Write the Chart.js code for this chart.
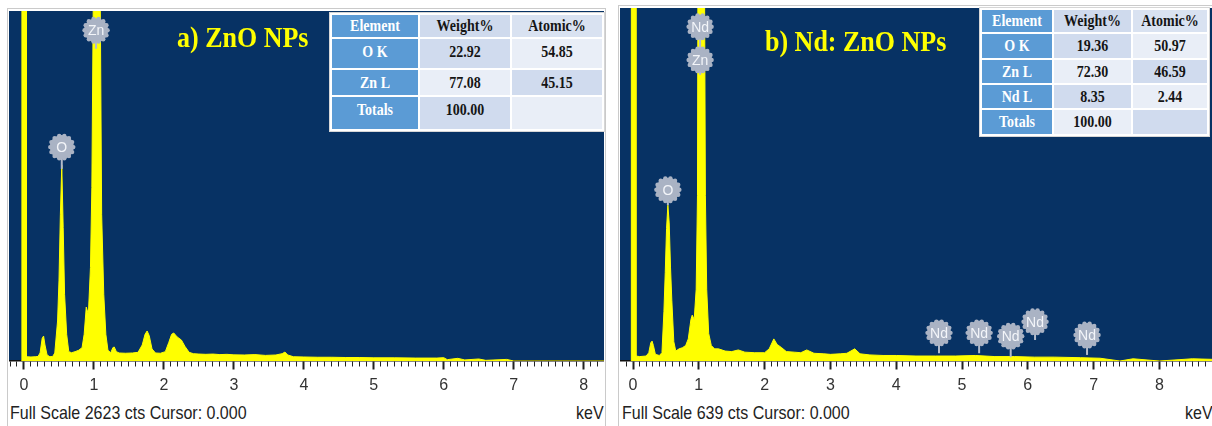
<!DOCTYPE html>
<html lang="en">
<head>
<meta charset="UTF-8">
<title>EDX ZnO / Nd:ZnO</title>
<script src="https://cdn.jsdelivr.net/npm/chart.js"></script>
<style>
    body {
        margin: 0;
        width: 1212px;
        height: 426px;
        overflow: hidden;
        position: relative;
        background: #fff;
        font-family: 'Liberation Sans', Arial, sans-serif;
    }

    .panel {
        position: absolute;
        border: 1px solid #cacaca;
        border-bottom: none;
    }

    #panelA { left: 7px; top: 8px; width: 597px; height: 430px; }
    #panelB { left: 618px; top: 5px; width: 600px; height: 430px; }

    canvas { position: absolute; }
    #chartA { left: 9px; top: 11px; }
    #chartB { left: 620px; top: 8px; }

    .title {
        position: absolute;
        color: #ffff00;
        font: bold 26px 'Liberation Serif', 'Times New Roman', serif;
        line-height: 26px;
        white-space: nowrap;
        transform: scaleY(1.15);
    }

    .foot {
        position: absolute;
        color: #222;
        font-size: 16px;
        line-height: 16px;
        white-space: nowrap;
        transform: scaleY(1.2);
    }

    table.eds {
        position: absolute;
        border-collapse: separate;
        border-spacing: 2px;
        background: #fff;
        border: 1px solid #d6d6d6;
        table-layout: fixed;
        font: bold 14px 'Liberation Serif', 'Times New Roman', serif;
        color: #151515;
    }

    table.eds td {
        padding: 0;
        text-align: center;
        vertical-align: middle;
        overflow: hidden;
    }

    #tableA tr.data td {
        vertical-align: top;
        padding-top: 5px;
    }

    table.eds td span {
        display: inline-block;
        transform: scaleY(1.15);
    }

    #tableA { left: 329px; top: 12px; }
    #tableB { left: 979px; top: 7px; }
</style>
</head>
<body>

<div class="panel" id="panelA"></div>
<div class="panel" id="panelB"></div>

<canvas id="chartA" width="595" height="390"></canvas>
<canvas id="chartB" width="592" height="393"></canvas>

<div class="title" style="left:177px; top:25px;">a) ZnO NPs</div>
<div class="title" style="left:765px; top:29px;">b) Nd: ZnO NPs</div>

<table class="eds" id="tableA"></table>
<table class="eds" id="tableB"></table>

<div class="foot" style="left:10px; top:405px;">Full Scale 2623 cts Cursor: 0.000</div>
<div class="foot" style="left:576px; top:405px;">keV</div>
<div class="foot" style="left:622px; top:405px;">Full Scale 639 cts Cursor: 0.000</div>
<div class="foot" style="left:1185px; top:405px;">keV</div>

<script>
    // ---- a) ZnO NPs spectrum (keV / counts) ----
    const kevA = [-0.035, -0.03, 0.03, 0.035, 0.10, 0.16, 0.20, 0.23, 0.26, 0.28, 0.30, 0.33, 0.37, 0.41,
        0.44, 0.48, 0.50, 0.52, 0.54, 0.56, 0.58, 0.61, 0.64, 0.68, 0.73, 0.78, 0.83, 0.86, 0.89, 0.92,
        0.95, 0.97, 0.99, 1.01, 1.07, 1.09, 1.11, 1.14, 1.17, 1.20, 1.24, 1.27, 1.29, 1.32, 1.36, 1.45,
        1.55, 1.63, 1.69, 1.73, 1.76, 1.79, 1.83, 1.88, 1.95, 2.02, 2.07, 2.11, 2.14, 2.19, 2.25, 2.30,
        2.36, 2.42, 2.50, 2.60, 2.70, 2.80, 2.90, 3.00, 3.15, 3.30, 3.45, 3.60, 3.69, 3.73, 3.77, 3.85,
        4.00, 4.20, 4.40, 4.60, 4.80, 5.00, 5.30, 5.60, 5.90, 6.00, 6.05, 6.20, 6.30, 6.50, 6.60, 6.90,
        7.00, 8.30];
    const ctsA = [0, 6000, 6000, 32, 30, 32, 34, 60, 170, 187, 120, 45, 32, 34,
        60, 300, 600, 1100, 1468, 1000, 500, 200, 70, 62, 70, 80, 100, 200, 404, 350,
        700, 1300, 2700, 5000, 5000, 2700, 1100, 500, 200, 80, 62, 100, 105, 70, 60, 58,
        60, 65, 120, 200, 225, 190, 90, 60, 58, 70, 140, 200, 210, 180, 157, 110,
        65, 55, 52, 50, 52, 48, 50, 46, 45, 48, 42, 45, 55, 67, 45, 32,
        30, 28, 28, 26, 26, 24, 24, 22, 22, 25, 10, 20, 8, 15, 5, 12,
        0, 0];

    // ---- b) Nd: ZnO NPs spectrum ----
    const kevB = [-0.03, -0.025, 0.04, 0.045, 0.10, 0.20, 0.24, 0.27, 0.29, 0.31, 0.34, 0.40, 0.44, 0.47,
        0.49, 0.51, 0.53, 0.55, 0.57, 0.59, 0.62, 0.65, 0.70, 0.75, 0.80, 0.84, 0.88, 0.90, 0.93, 0.96,
        0.98, 0.99, 1.08, 1.10, 1.12, 1.15, 1.19, 1.24, 1.30, 1.40, 1.50, 1.60, 1.70, 1.85, 2.00, 2.07,
        2.14, 2.19, 2.26, 2.33, 2.45, 2.55, 2.64, 2.75, 2.90, 3.00, 3.15, 3.25, 3.37, 3.45, 3.60, 3.80,
        4.00, 4.30, 4.60, 4.90, 5.20, 5.50, 5.80, 6.10, 6.40, 6.80, 7.10, 7.40, 7.60, 8.00, 8.50, 8.80];
    const ctsB = [0, 2000, 2000, 9, 8, 9, 15, 33, 36, 28, 12, 10, 15, 90,
        160, 240, 282, 250, 170, 110, 35, 18, 22, 24, 28, 40, 75, 83, 75, 130,
        300, 900, 900, 300, 130, 50, 28, 22, 22, 18, 17, 20, 16, 15, 15, 22,
        40, 30, 24, 17, 16, 15, 20, 14, 13, 12, 13, 14, 22, 13, 11, 10,
        10, 9, 9, 9, 10, 8, 8, 7, 7, 6, 5, 0, 4, 0, 4, 3];

    const fullScaleA = 2623;
    const fullScaleB = 639;

    // peak markers: element, keV, bubble height (cts), stem end (cts)
    const peakNamesA = ['Zn', 'O'];
    const peakKevA = [1.03, 0.54];
    const peakCtsA = [2479, 1603];
    const peakStemA = [2340, 1440];

    const peakNamesB = ['Nd', 'Zn', 'O', 'Nd', 'Nd', 'Nd', 'Nd', 'Nd'];
    const peakKevB = [1.02, 1.02, 0.53, 4.65, 5.26, 5.74, 6.11, 6.90];
    const peakCtsB = [605, 545, 310, 51, 51, 45, 71, 47];
    const peakStemB = [560, 518, 282, 14, 14, 7, 38, 11];

    // quantification tables
    const tableHeader = ['Element', 'Weight%', 'Atomic%'];
    const tableRowsA = [['O K', '22.92', '54.85'], ['Zn L', '77.08', '45.15'], ['Totals', '100.00', '']];
    const tableRowsB = [['O K', '19.36', '50.97'], ['Zn L', '72.30', '46.59'], ['Nd L', '8.35', '2.44'], ['Totals', '100.00', '']];

    function isWhole(v) {
        return Math.abs(v - Math.round(v)) < 1e-6;
    }

    const plotBg = {
        id: 'plotBg',
        beforeDraw(chart) {
            const { ctx, chartArea: a } = chart;
            ctx.save();
            ctx.fillStyle = '#073264';
            ctx.fillRect(a.left, a.top, a.right - a.left, a.bottom - a.top);
            ctx.restore();
        }
    };

    function makePeakLabels(names, kev, cts, stem) {
        return {
            id: 'peakLabels',
            afterDatasetsDraw(chart) {
                const { ctx, scales: { x, y } } = chart;
                names.forEach((name, i) => {
                    const px = x.getPixelForValue(kev[i]);
                    const py = y.getPixelForValue(cts[i]);
                    const sy = y.getPixelForValue(stem[i]);
                    ctx.save();
                    ctx.strokeStyle = '#b3bbca';
                    ctx.lineWidth = 2;
                    ctx.beginPath();
                    ctx.moveTo(px, py);
                    ctx.lineTo(px, sy);
                    ctx.stroke();
                    // scalloped bubble
                    ctx.fillStyle = '#aab3c4';
                    ctx.beginPath();
                    ctx.arc(px, py, 12, 0, Math.PI * 2);
                    ctx.fill();
                    for (let k = 0; k < 14; k++) {
                        const a = k * Math.PI * 2 / 14;
                        ctx.beginPath();
                        ctx.arc(px + Math.cos(a) * 11.5, py + Math.sin(a) * 11.5, 2.2, 0, Math.PI * 2);
                        ctx.fill();
                    }
                    ctx.fillStyle = '#f3f5f9';
                    ctx.font = '14px "Liberation Sans", Arial, sans-serif';
                    ctx.textAlign = 'center';
                    ctx.textBaseline = 'middle';
                    ctx.fillText(name, px, py + 1);
                    ctx.restore();
                });
            }
        };
    }

    function makeSpectrum(id, kev, cts, fullScale, xMin, xMax, labels) {
        return new Chart(document.getElementById(id), {
            type: 'line',
            data: {
                datasets: [{
                    data: kev.map((k, i) => ({ x: k, y: cts[i] })),
                    borderColor: '#ffff00',
                    backgroundColor: '#ffff00',
                    borderWidth: 1,
                    fill: 'origin',
                    pointRadius: 0,
                    tension: 0
                }]
            },
            options: {
                responsive: false,
                animation: false,
                devicePixelRatio: 1,
                layout: { padding: 0 },
                plugins: {
                    legend: { display: false },
                    tooltip: { enabled: false }
                },
                scales: {
                    x: {
                        type: 'linear',
                        min: xMin,
                        max: xMax,
                        afterFit(scale) { scale.height = 40; },
                        border: { display: true, color: '#111', width: 1.5 },
                        grid: {
                            drawOnChartArea: false,
                            drawTicks: true,
                            // long tick slot, dash keeps only the visible mark
                            tickLength: 15,
                            tickColor: '#222',
                            tickWidth: ctx => (ctx.tick && isWhole(ctx.tick.value)) ? 2 : 1,
                            tickBorderDash: ctx => (ctx.tick && isWhole(ctx.tick.value)) ? [8, 40] : [5, 40]
                        },
                        ticks: {
                            stepSize: 0.1,
                            autoSkip: false,
                            includeBounds: false,
                            maxRotation: 0,
                            padding: 0,
                            color: '#333',
                            font: { family: "'Liberation Sans', Arial, sans-serif", size: 16 },
                            callback: v => isWhole(v) ? Math.round(v) : ''
                        }
                    },
                    y: { display: false, min: 0, max: fullScale }
                }
            },
            plugins: [plotBg, labels]
        });
    }

    function buildTable(id, rows, colWidths, rowHeights) {
        const table = document.getElementById(id);
        const cg = document.createElement('colgroup');
        colWidths.forEach(w => {
            const c = document.createElement('col');
            c.style.width = w + 'px';
            cg.appendChild(c);
        });
        table.appendChild(cg);
        [tableHeader].concat(rows).forEach((row, r) => {
            const tr = document.createElement('tr');
            tr.style.height = rowHeights[r] + 'px';
            if (r > 0) tr.className = 'data';
            row.forEach((txt, c) => {
                const td = document.createElement('td');
                const sp = document.createElement('span');
                sp.textContent = txt;
                td.appendChild(sp);
                if (c === 0) {
                    td.style.background = '#5b9bd5';
                    td.style.color = '#fff';
                } else if (r === 0) {
                    td.style.background = c === 1 ? '#cfdaed' : '#d9e2f1';
                } else {
                    td.style.background = (r + c) % 2 === 0 ? '#d0dbee' : '#e9eef7';
                }
                tr.appendChild(td);
            });
            table.appendChild(tr);
        });
    }

    buildTable('tableA', tableRowsA, [86, 90, 90], [22, 29, 25, 32]);
    buildTable('tableB', tableRowsB, [70, 77, 74], [22, 24, 23, 23, 24]);

    makeSpectrum('chartA', kevA, ctsA, fullScaleA, -0.2143, 8.29,
        makePeakLabels(peakNamesA, peakKevA, peakCtsA, peakStemA));
    makeSpectrum('chartB', kevB, ctsB, fullScaleB, -0.1976, 8.799,
        makePeakLabels(peakNamesB, peakKevB, peakCtsB, peakStemB));
</script>
</body>
</html>
